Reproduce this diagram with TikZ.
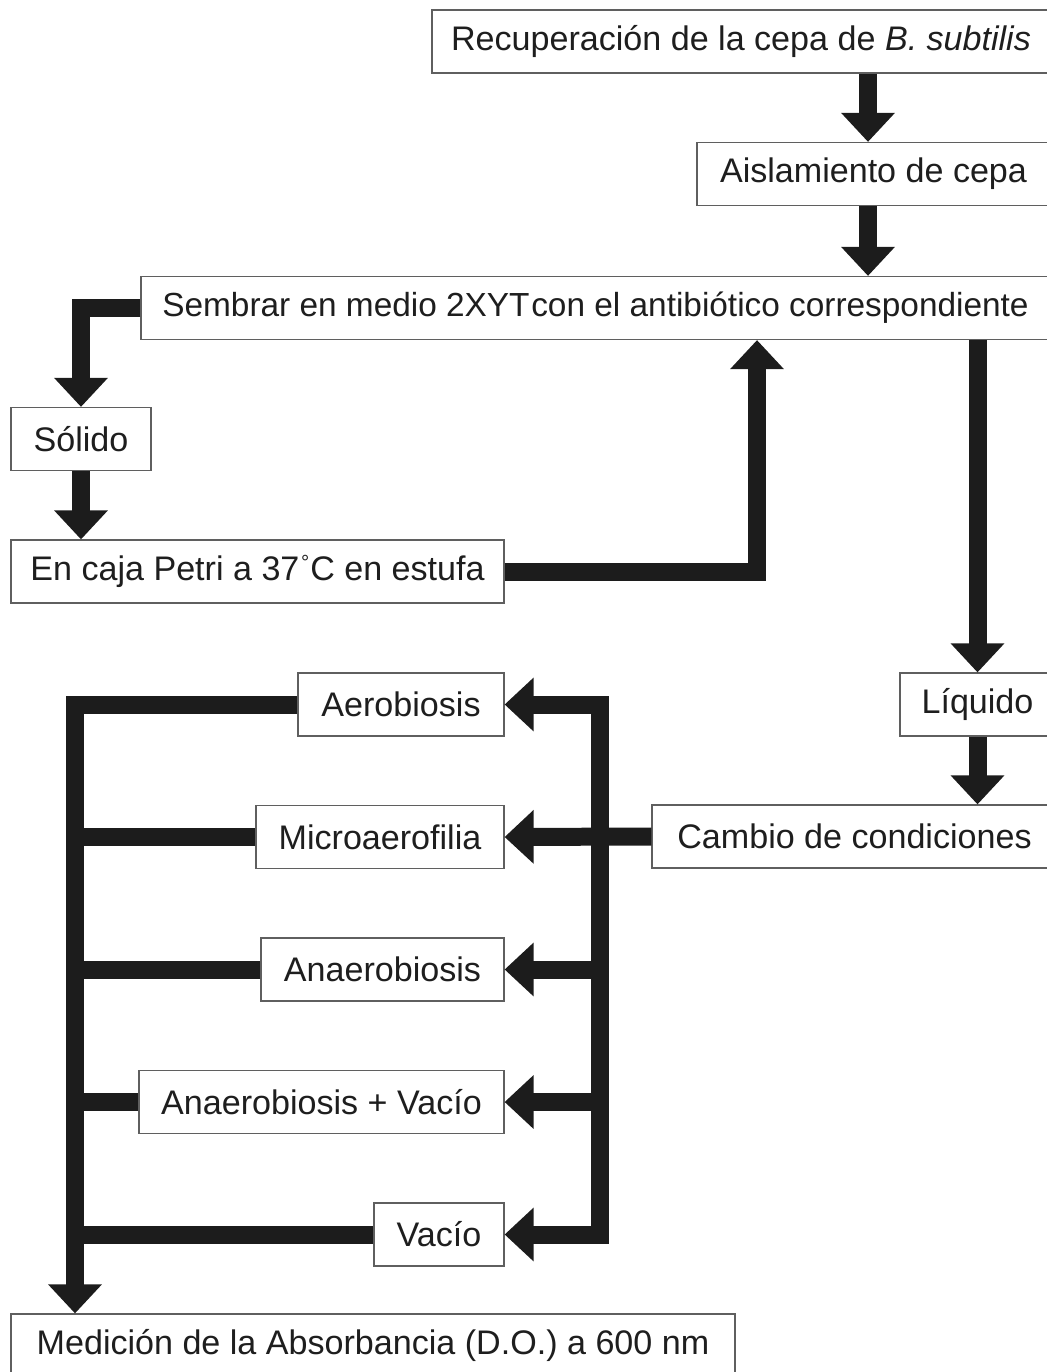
\documentclass[tikz,border=0pt]{standalone}
\usepackage{fontspec}
\setmainfont{Liberation Sans}
\usepackage{tikz}
\usetikzlibrary{calc,arrows.meta,positioning}
\definecolor{flowdark}{RGB}{28,28,28}
\definecolor{boxgray}{RGB}{95,95,95}
\definecolor{textdark}{RGB}{30,30,30}

\newcommand{\gradsign}{\kern1pt\raisebox{0.6ex}{\scalebox{0.6}{°}}\kern0.5pt}

\tikzset{
  stepbox/.style={draw=boxgray, line width=0.7pt, fill=white, text=textdark,
    minimum height=1.26cm, inner sep=0pt, font=\fontsize{19.4pt}{22pt}\selectfont},
  flow/.style={line width=0.36cm, draw=flowdark, -{Triangle[width=1.04cm,length=0.58cm]}},
  twoway/.style={line width=0.36cm, draw=flowdark,
    {Triangle[width=1.04cm,length=0.58cm]}-{Triangle[width=1.04cm,length=0.58cm]}},
  branch/.style={line width=0.36cm, draw=flowdark}
}

\begin{document}
\begin{tikzpicture}[x=0.02cm, y=-0.02cm]
  \useasboundingbox (0,0) rectangle (1046,1372);

  % upper chain
  \node[stepbox, minimum width=12.36cm] (recup) at (741,41.5) {Recuperación de la cepa de \textit{B. subtilis}};
  \node[stepbox, minimum width=7.06cm] (aisl) at (873.5,174) {Aislamiento de cepa};
  \node[stepbox, minimum width=18.18cm, font=\fontsize{19pt}{22pt}\selectfont] (sembrar) at (595.5,308) {Sembrar en medio 2XYT\hspace{0.05em}con el antibiótico correspondiente};

  % solid branch
  \node[stepbox, minimum width=2.8cm] (solido) at (81,439) {Sólido};
  \node[stepbox, minimum width=9.86cm] (petri) at (257.5,571.5) {En caja Petri a 37\gradsign C en estufa};

  % liquid branch
  \node[stepbox, minimum width=3.1cm] (liquido) at (977.5,704.5) {Líquido};
  \node[stepbox, minimum width=8.1cm] (cambio) at (854.5,836.5) {Cambio de condiciones};

  % conditions
  \node[stepbox, minimum width=4.12cm] (aero) at (401,704.5) {Aerobiosis};
  \node[stepbox, minimum width=4.96cm] (micro) at (380,837) {Microaerofilia};
  \node[stepbox, minimum width=4.86cm] (anaero) at (382.5,969.5) {Anaerobiosis};
  \node[stepbox, minimum width=7.3cm] (anvac) at (321.5,1102) {Anaerobiosis + Vacío};
  \node[stepbox, minimum width=2.6cm] (vacio) at (439,1234.5) {Vacío};

  \node[stepbox, minimum width=14.48cm] (medicion) at (373,1345.5) {Medición de la Absorbancia (D.O.) a 600 nm};

  \coordinate (drop) at ($(aisl.north)+(-5.5,0)$);
  \coordinate (lbus) at (75,704.5);
  \coordinate (rbus) at (600,704.5);

  \draw[flow] (drop |- recup.south) -- (drop);
  \draw[flow] (drop |- aisl.south) -- (drop |- sembrar.north);
  \draw[flow] (sembrar.west) -| (solido.north);
  \draw[flow] (solido.south) -- (solido.south |- petri.north);
  \draw[flow] (petri.east) -| ($(sembrar.south)+(161.5,0)$);
  \draw[flow] (liquido.north |- sembrar.south) -- (liquido.north);
  \draw[flow] (liquido.south) -- (liquido.south |- cambio.north);

  % distribution to conditions
  \draw[twoway] (aero.east) -| (rbus |- vacio.east) -- (vacio.east);
  \draw[flow] (rbus |- anaero.east) -- (anaero.east);
  \draw[flow] (rbus |- anvac.east) -- (anvac.east);
  \draw[flow] (cambio.west) -- (micro.east);

  % collection to measurement
  \draw[flow] (aero.west) -| (lbus |- medicion.north);
  \draw[branch] (micro.west) -- (micro.west -| lbus);
  \draw[branch] (anaero.west) -- (anaero.west -| lbus);
  \draw[branch] (anvac.west) -- (anvac.west -| lbus);
  \draw[branch] (vacio.west) -- (vacio.west -| lbus);
\end{tikzpicture}
\end{document}
